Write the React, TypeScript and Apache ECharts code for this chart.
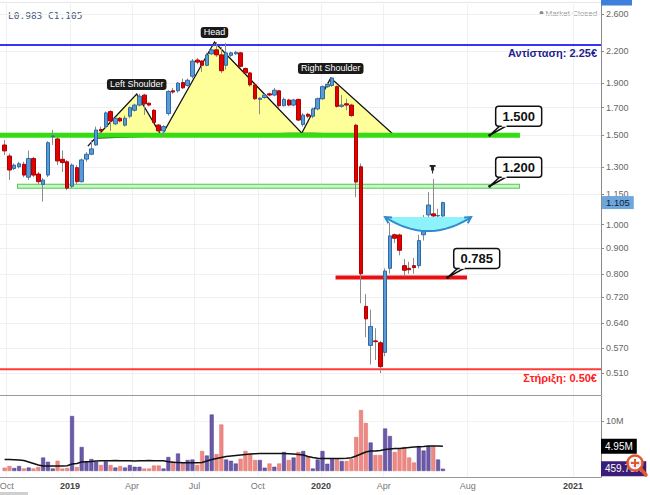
import React, { useEffect, useRef } from "react";
import * as echarts from "echarts";

// ---------- data (weekly candles, prices in €) ----------
const weekStart = "2018-09-28";
const opens = [1.435,1.365,1.29,1.3,1.315,1.24,1.35,1.258,1.2,1.252,
1.49,1.475,1.345,1.33,1.19,1.295,1.215,1.346,1.376,1.435,
1.54,1.56,1.67,1.58,1.62,1.57,1.635,1.68,1.72,1.8,
1.735,1.68,1.571,1.53,1.655,1.835,1.835,1.905,1.88,1.96,
2.11,2.1,2.06,2.17,2.21,2.16,2.06,2.155,2.17,2.18,
2.03,1.99,1.885,1.765,1.78,1.81,1.8,1.835,1.715,1.76,
1.72,1.765,1.575,1.65,1.635,1.69,1.77,1.87,1.88,1.87,
1.71,1.73,1.72,1.57,1.3,0.69,0.578,0.59,0.585,0.56,
0.82,0.955,0.954,0.83,0.82,0.83,0.83,0.955,1.045,1.05,
1.04,1.04];
const closes = [1.397,1.281,1.31,1.318,1.252,1.35,1.252,1.215,1.224,1.45,
1.495,1.335,1.325,1.18,1.31,1.215,1.341,1.376,1.41,1.536,
1.53,1.66,1.6,1.62,1.6,1.62,1.7,1.72,1.79,1.73,
1.72,1.59,1.53,1.56,1.83,1.825,1.9,1.86,1.925,2.1,
2.09,2.06,2.16,2.21,2.16,2.01,2.18,2.18,2.185,2.05,
1.99,1.885,1.77,1.775,1.8,1.8,1.84,1.715,1.765,1.72,
1.76,1.607,1.644,1.635,1.69,1.77,1.87,1.89,1.945,1.71,
1.72,1.72,1.64,1.213,0.8,0.652,0.63,0.588,0.525,0.81,
0.95,0.94,0.89,0.813,0.815,0.823,0.93,1.03,1.093,1.04,
1.042,1.105];
const lows = [1.371,1.224,1.28,1.29,1.24,1.224,1.24,1.2,1.11,1.24,
1.435,1.31,1.27,1.17,1.18,1.2,1.21,1.33,1.37,1.43,
1.51,1.55,1.53,1.57,1.59,1.56,1.62,1.67,1.71,1.645,
1.71,1.58,1.52,1.49,1.64,1.81,1.82,1.85,1.87,1.94,
2.07,2.0,2.05,2.16,2.14,1.99,2.02,2.14,2.16,2.04,
1.98,1.87,1.76,1.65,1.77,1.79,1.79,1.7,1.71,1.71,
1.71,1.6,1.56,1.62,1.62,1.68,1.76,1.86,1.87,1.7,
1.7,1.68,1.63,1.132,0.7,0.6,0.53,0.541,0.51,0.55,
0.8,0.92,0.87,0.79,0.8,0.8,0.82,0.93,1.0,1.02,
1.0,0.983];
const highs = [1.468,1.38,1.32,1.33,1.33,1.4,1.36,1.27,1.235,1.46,
1.536,1.49,1.4,1.34,1.32,1.31,1.35,1.39,1.468,1.56,
1.56,1.67,1.68,1.63,1.63,1.64,1.71,1.73,1.81,1.81,
1.74,1.69,1.58,1.57,1.84,1.86,1.91,1.94,1.94,2.12,
2.13,2.11,2.18,2.23,2.29,2.24,2.28,2.19,2.2,2.19,
2.04,2.0,1.89,1.78,1.81,1.82,1.86,1.84,1.78,1.77,
1.77,1.77,1.66,1.66,1.7,1.78,1.88,1.91,1.95,1.88,
1.8,1.77,1.73,1.58,1.32,0.73,0.68,0.625,0.59,0.82,
1.01,0.96,0.96,0.855,0.845,0.86,0.955,1.045,1.16,1.23,
1.075,1.11];
// volume in millions
const volumesM = [0.66,1.0,0.6,1.0,0.5,0.7,0.5,0.8,2.7,1.85,
0.5,2.05,0.5,0.6,11.0,0.8,4.8,1.85,2.4,1.85,
1.2,1.9,1.2,0.7,1.0,0.7,1.2,0.85,0.85,0.5,
0.5,1.1,1.1,0.5,2.8,1.9,3.5,1.7,2.2,2.3,
1.2,4.0,3.1,11.3,3.4,9.3,2.3,2.05,1.5,2.45,
4.0,3.4,2.2,2.2,0.66,1.5,0.85,1.5,3.8,2.2,
2.7,3.8,4.0,2.85,0.5,2.3,4.0,1.45,2.4,2.4,
2.0,2.0,2.4,6.8,12.2,9.6,5.7,3.2,3.2,8.5,
7.0,3.8,4.4,4.8,2.7,1.7,5.0,4.1,5.0,5.0,
2.3,0.45975];
const volumeMAM = [2.3,2.3,2.25,2.2,2.1,1.8,1.5,1.2,1.0,1.0,
1.0,1.0,1.0,1.05,1.4,1.5,1.8,1.85,1.9,2.0,
2.05,2.05,2.05,2.1,2.05,2.05,2.05,2.0,2.05,2.05,
2.1,2.05,2.05,2.05,1.85,1.75,1.7,1.65,1.65,1.65,
1.65,1.7,2.0,2.3,2.5,2.7,2.9,3.0,3.1,3.2,
3.3,3.4,3.45,3.5,3.5,3.5,3.5,3.5,3.5,3.45,
3.4,3.3,3.2,2.9,2.7,2.55,2.5,2.5,2.5,2.5,
2.5,2.55,2.65,3.0,3.4,3.8,4.0,4.0,4.1,4.3,
4.4,4.5,4.5,4.6,4.7,4.8,4.85,4.9,5.0,5.0,
5.0,4.95];

const priceTicks = [2.6, 2.2, 1.9, 1.7, 1.5, 1.3, 1.15, 1.0, 0.9, 0.8, 0.72, 0.64, 0.57, 0.51];
const volumeTicksM = [10];
const monthTickDates = ["2018-10-01","2019-01-01","2019-04-01","2019-07-01","2019-10-01","2020-01-01","2020-04-01","2020-08-01","2021-01-01"];
const monthTickLabels = ["Oct","2019","Apr","Jul","Oct","2020","Apr","Aug","2021"];

const levelPrices = [2.259, 1.5, 1.19, 0.787, 0.519];
const levelStarts = ["2018-09-01","2018-09-01","2018-10-16","2020-01-22","2018-09-01"];
const levelEnds = ["2021-03-01","2020-10-16","2020-10-16","2020-07-31","2021-03-01"];
const levelTexts = ["Αντίσταση: 2.25€", "", "", "", "Στήριξη: 0.50€"];

const calloutDates = ["2020-09-02","2020-09-02","2020-07-03"];
const calloutPrices = [1.5, 1.19, 0.787];
const calloutTexts = ["1.500","1.200","0.785"];

const hsDates = [["2019-02-07","2019-04-08","2019-05-14"],["2019-05-14","2019-07-30","2019-12-04"],["2019-12-04","2020-01-15","2020-04-16"]];
const hsPrices = [[1.481,1.809,1.495],[1.495,2.29,1.515],[1.515,1.945,1.501]];
const hsLabels = ["Left Shoulder","Head","Right Shoulder"];
const hsLeadDate = "2019-01-27";
const hsLeadPrice = 1.428;

const bowlDates = ["2020-04-03","2020-08-06"];
const bowlPrices = [1.035, 0.971];
const pinDate = "2020-06-11";
const pinPrice = 1.281;

const lastLow = 0.983;
const lastClose = 1.105;
const lastMA = 4.95;
const lastVolumeK = 459.75;

// ---------- helpers / layout ----------
const DAY = 86400000;
const t = (s: string) => Date.parse(s + "T00:00:00Z");
const L = Math.log;
const JAN19 = t("2019-01-01");
const X_MIN = JAN19 - 101.7 * DAY;
const X_MAX = JAN19 + 771.8 * DAY;
const Y_MIN = -0.7731;
const Y_MAX = 1.0009;
const FONT = '"Liberation Sans", Arial, sans-serif';

const UP = "#5b9bd5", UP_B = "#2f6aa8", DN = "#e00000", DN_B = "#b00000", WICK = "#8c8c8c";
const VUP = "#6b5aa8", VUP_B = "#4d3d8c", VDN = "#ef8983", VDN_B = "#d86a64";
const LEVEL_STYLE: any[] = [
  { c: "#3535f5", w: 2, tc: "#1f1f8f" },
  { c: "#33dd11", w: 5 },
  { c: "#55c855", w: 5, inner: "#c8f6c8", iw: 3 },
  { c: "#e81010", w: 4 },
  { c: "#ff3b3b", w: 2, tc: "#ff2020" },
];

function buildOption(): any {
  const times = opens.map((_, i) => t(weekStart) + i * 7 * DAY);
  const isUp = opens.map((o, i) => closes[i] >= o);
  const monthTicks = monthTickDates.map(t);
  const lnTicks = priceTicks.map((p) => L(p));

  const renderHS = (params: any, api: any) => {
    const i = params.dataIndex;
    const pts = hsDates[i].map((d, k) => api.coord([t(d), L(hsPrices[i][k])]));
    const children: any[] = [
      { type: "polygon", shape: { points: pts }, style: { fill: "#ffff99", stroke: "#111", lineWidth: 1.3 } },
    ];
    if (i === 0) {
      const lead = api.coord([t(hsLeadDate), L(hsLeadPrice)]);
      children.push({ type: "line", shape: { x1: lead[0], y1: lead[1], x2: pts[0][0], y2: pts[0][1] }, style: { stroke: "#111", lineWidth: 1.3 } });
    }
    return { type: "group", children };
  };

  const renderHSLabel = (params: any, api: any) => {
    const i = params.dataIndex;
    const p = api.coord([t(hsDates[i][1]), L(hsPrices[i][1])]);
    return {
      type: "text", x: p[0], y: p[1] - 4,
      style: { text: hsLabels[i], fill: "#fff", font: "9px " + FONT, align: "center", verticalAlign: "bottom",
        backgroundColor: "#1a1a1a", padding: [1, 3, 1, 3], borderRadius: 3 },
    };
  };

  const renderLevel = (params: any, api: any) => {
    const i = params.dataIndex;
    const cs = params.coordSys;
    const a = api.coord([t(levelStarts[i]), L(levelPrices[i])]);
    const b = api.coord([t(levelEnds[i]), L(levelPrices[i])]);
    const x1 = Math.max(a[0], cs.x), x2 = Math.min(b[0], cs.x + cs.width), y = a[1];
    const st = LEVEL_STYLE[i];
    const children: any[] = [{ type: "line", shape: { x1, y1: y, x2, y2: y }, style: { stroke: st.c, lineWidth: st.w } }];
    if (st.inner) children.push({ type: "line", shape: { x1: x1 + 1, y1: y, x2: x2 - 1, y2: y }, style: { stroke: st.inner, lineWidth: st.iw } });
    if (levelTexts[i]) {
      children.push({ type: "text", x: cs.x + cs.width - 4, y: y + 3,
        style: { text: levelTexts[i], fill: st.tc, font: "bold 11px " + FONT, align: "right", verticalAlign: "top" } });
    }
    return { type: "group", children };
  };

  const renderCallout = (params: any, api: any) => {
    const i = params.dataIndex;
    const a = api.coord([t(calloutDates[i]), L(calloutPrices[i])]);
    const bx = a[0] + 6, by = a[1] - 29, bw = 46, bh = 20;
    return {
      type: "group",
      children: [
        { type: "polygon", shape: { points: [[bx + 5, by + bh - 1], [bx + 12, by + bh - 1], [a[0], a[1]]] }, style: { fill: "#fff", stroke: "#111", lineWidth: 1.5 } },
        { type: "rect", shape: { x: bx, y: by, width: bw, height: bh, r: 3 }, style: { fill: "#fff", stroke: "#111", lineWidth: 1.5 } },
        { type: "rect", shape: { x: bx + 6, y: by + bh - 2.5, width: 5, height: 3 }, style: { fill: "#fff" } },
        { type: "circle", shape: { cx: a[0], cy: a[1], r: 1.5 }, style: { fill: "#111" } },
        { type: "text", x: bx + bw / 2, y: by + bh / 2 + 0.5,
          style: { text: calloutTexts[i], fill: "#111", font: "bold 13px " + FONT, align: "center", verticalAlign: "middle" } },
      ],
    };
  };

  const renderBowl = (params: any, api: any) => {
    const a = api.coord([t(bowlDates[0]), L(bowlPrices[0])]);
    const b = api.coord([t(bowlDates[1]), L(bowlPrices[0])]);
    const m = api.coord([(t(bowlDates[0]) + t(bowlDates[1])) / 2, L(bowlPrices[1])]);
    const c = [m[0], 2 * m[1] - (a[1] + b[1]) / 2];
    const curve: number[][] = [];
    for (let k = 0; k <= 24; k++) {
      const s = k / 24;
      curve.push([
        (1 - s) * (1 - s) * a[0] + 2 * s * (1 - s) * c[0] + s * s * b[0],
        (1 - s) * (1 - s) * a[1] + 2 * s * (1 - s) * c[1] + s * s * b[1],
      ]);
    }
    const head = (tip: number[]) => {
      const dx = tip[0] - c[0], dy = tip[1] - c[1];
      const n = Math.hypot(dx, dy) || 1;
      const ux = dx / n, uy = dy / n;
      const rot = (ang: number) => [ux * Math.cos(ang) - uy * Math.sin(ang), ux * Math.sin(ang) + uy * Math.cos(ang)];
      const r1 = rot(0.5), r2 = rot(-0.5);
      return [[tip[0] - r1[0] * 7, tip[1] - r1[1] * 7], tip, [tip[0] - r2[0] * 7, tip[1] - r2[1] * 7]];
    };
    return {
      type: "group",
      children: [
        { type: "polygon", shape: { points: curve }, style: { fill: "#8cf3fb", stroke: "none" } },
        { type: "polyline", shape: { points: curve }, style: { stroke: "#2f8ad0", lineWidth: 2, fill: "none" } },
        { type: "polyline", shape: { points: head(a) }, style: { stroke: "#2f8ad0", lineWidth: 2, fill: "none" } },
        { type: "polyline", shape: { points: head(b) }, style: { stroke: "#2f8ad0", lineWidth: 2, fill: "none" } },
      ],
    };
  };

  const renderPin = (params: any, api: any) => {
    const p = api.coord([t(pinDate), L(pinPrice)]);
    return {
      type: "group",
      children: [
        { type: "rect", shape: { x: p[0] - 3, y: p[1] - 5, width: 6, height: 1.8 }, style: { fill: "#222" } },
        { type: "rect", shape: { x: p[0] - 1.5, y: p[1] - 4, width: 3, height: 4.5 }, style: { fill: "#222" } },
        { type: "line", shape: { x1: p[0], y1: p[1], x2: p[0], y2: p[1] + 3.5 }, style: { stroke: "#222", lineWidth: 1 } },
      ],
    };
  };

  // value tags sitting on the right axes
  const priceTagText = [lastClose.toFixed(3)];
  const renderPriceTag = (params: any, api: any) => {
    const p = api.coord([X_MAX, L(lastClose)]);
    return {
      type: "text", x: p[0] + 1, y: p[1],
      style: { text: priceTagText[params.dataIndex], fill: "#0b1f3a", font: "9.5px " + FONT, align: "left", verticalAlign: "middle",
        backgroundColor: "#6ea6dc", padding: [2, 4, 1, 4] },
    };
  };
  const volTagValues = [lastMA, volumesM[volumesM.length - 1]];
  const volTagTexts = [lastMA.toFixed(2) + "M", lastVolumeK.toFixed(2) + "K"];
  const volTagColors = ["#000", "#3b1d78"];
  const renderVolTag = (params: any, api: any) => {
    const i = params.dataIndex;
    const p = api.coord([X_MAX, volTagValues[i]]);
    return {
      type: "text", x: p[0], y: p[1],
      style: { text: volTagTexts[i], fill: "#fff", font: "10px " + FONT, align: "left", verticalAlign: "middle",
        backgroundColor: volTagColors[i], padding: [3, 4, 2, 4] },
    };
  };

  const monthFormatter = (v: number) => {
    let best = 0;
    monthTicks.forEach((m, k) => { if (Math.abs(m - v) < Math.abs(monthTicks[best] - v)) best = k; });
    const lab = monthTickLabels[best];
    return /^\d{4}$/.test(lab) ? "{y|" + lab + "}" : lab;
  };

  const header = "L" + lastLow.toFixed(3) + " C" + lastClose.toFixed(3);

  return {
    animation: false,
    backgroundColor: "#fff",
    grid: [
      { left: 0, top: 4, width: 601, height: 391, outerBoundsMode: "none", containLabel: false },
      { left: 0, top: 396, width: 601, height: 81, outerBoundsMode: "none", containLabel: false },
    ],
    xAxis: [
      {
        type: "value", gridIndex: 0, min: X_MIN, max: X_MAX, scale: true,
        axisLine: { show: false },
        axisTick: { show: false, customValues: monthTicks },
        axisLabel: { show: false, customValues: monthTicks },
        splitLine: { show: true, lineStyle: { color: "#f0f0f0", width: 1 } },
      },
      {
        type: "value", gridIndex: 1, min: X_MIN, max: X_MAX, scale: true,
        axisLine: { show: true, onZero: false, lineStyle: { color: "#999", width: 1 } },
        axisTick: { show: false, customValues: monthTicks },
        axisLabel: {
          show: true, customValues: monthTicks, formatter: monthFormatter, color: "#777", fontSize: 9,
          fontFamily: FONT, margin: 4, rich: { y: { fontWeight: "bold", color: "#444", fontSize: 9, fontFamily: FONT } },
        },
        splitLine: { show: true, lineStyle: { color: "#f2f2f2", width: 1 } },
      },
    ],
    yAxis: [
      {
        type: "value", gridIndex: 0, position: "right", min: Y_MIN, max: Y_MAX, scale: true,
        axisLine: { show: true, onZero: false, lineStyle: { color: "#8a8a8a", width: 1 } },
        axisTick: { show: true, length: 3, customValues: lnTicks, lineStyle: { color: "#8a8a8a" } },
        axisLabel: {
          show: true, customValues: lnTicks, formatter: (v: number) => Math.exp(v).toFixed(3),
          color: "#666", fontSize: 9, fontFamily: FONT, margin: 5,
        },
        splitLine: { show: true, lineStyle: { color: "#f0f0f0", width: 1 } },
      },
      {
        type: "value", gridIndex: 1, position: "right", min: -1.2, max: 15,
        axisLine: { show: true, onZero: false, lineStyle: { color: "#8a8a8a", width: 1 } },
        axisTick: { show: true, length: 3, customValues: volumeTicksM, lineStyle: { color: "#8a8a8a" } },
        axisLabel: {
          show: true, customValues: volumeTicksM, formatter: (v: number) => Math.round(v) + "M",
          color: "#666", fontSize: 9, fontFamily: FONT, margin: 5,
        },
        splitLine: { show: true, lineStyle: { color: "#f2f2f2", width: 1 } },
      },
    ],
    graphic: [
      { type: "line", shape: { x1: 0, y1: 2.5, x2: 601, y2: 2.5 }, style: { stroke: "#e6e6e6", lineWidth: 1 } },
      { type: "line", shape: { x1: 0, y1: 395.5, x2: 601, y2: 395.5 }, style: { stroke: "#9a9a9a", lineWidth: 1 } },
      { type: "text", x: 8, y: 15, style: { text: header, font: '9.5px "DejaVu Sans Mono", monospace', fill: "#44597a", verticalAlign: "middle" } },
      { type: "circle", shape: { cx: 541.5, cy: 13, r: 2 }, style: { fill: "#8a8a8a" } },
      { type: "text", x: 545.5, y: 13.5, style: { text: "Market Closed", font: "8px " + FONT, fill: "#9a9a9a", verticalAlign: "middle" } },
      { type: "rect", z: 50, shape: { x: 601, y: -4, width: 31, height: 9.5 }, style: { fill: "#3f7fdc" } },
      { type: "rect", shape: { x: 0, y: 492, width: 28, height: 3 }, style: { fill: "#d0d0d0" } },
      {
        type: "group", z: 100,
        children: [
          { type: "circle", z: 100, shape: { cx: 635, cy: 463, r: 7.5 }, style: { fill: "rgba(255,255,255,0.85)", stroke: "#e2572b", lineWidth: 2.5 } },
          { type: "line", z: 101, shape: { x1: 631, y1: 463, x2: 639, y2: 463 }, style: { stroke: "#e2572b", lineWidth: 2 } },
          { type: "line", z: 101, shape: { x1: 635, y1: 459, x2: 635, y2: 467 }, style: { stroke: "#e2572b", lineWidth: 2 } },
          { type: "line", z: 101, shape: { x1: 640.5, y1: 468.5, x2: 646, y2: 475 }, style: { stroke: "#e2572b", lineWidth: 3.5, lineCap: "round" } },
        ],
      },
    ],
    series: [
      {
        type: "custom", name: "hs", xAxisIndex: 0, yAxisIndex: 0, z: 1, silent: true,
        data: hsLabels.map((_, i) => [t(hsDates[i][1]), L(hsPrices[i][1])]),
        renderItem: renderHS,
      },
      {
        type: "custom", name: "levels", xAxisIndex: 0, yAxisIndex: 0, z: 2, silent: true,
        data: levelPrices.map((p, i) => [(Math.max(t(levelStarts[i]), X_MIN) + Math.min(t(levelEnds[i]), X_MAX)) / 2, L(p)]),
        renderItem: renderLevel,
      },
      {
        type: "candlestick", name: "wicks", xAxisIndex: 0, yAxisIndex: 0, z: 3, silent: true, barWidth: 1,
        data: times.map((d, i) => [d, L(opens[i]), L(closes[i]), L(lows[i]), L(highs[i])]),
        itemStyle: { color: WICK, color0: WICK, borderColor: WICK, borderColor0: WICK, borderWidth: 1 },
      },
      {
        type: "candlestick", name: "bodies", xAxisIndex: 0, yAxisIndex: 0, z: 4, silent: true, barWidth: 4,
        data: times.map((d, i) => [d, L(opens[i]), L(closes[i]), L(Math.min(opens[i], closes[i])), L(Math.max(opens[i], closes[i]))]),
        itemStyle: { color: UP, color0: DN, borderColor: UP_B, borderColor0: DN_B, borderWidth: 1 },
      },
      {
        type: "custom", name: "bowl", xAxisIndex: 0, yAxisIndex: 0, z: 5, silent: true,
        data: [[t(bowlDates[0]), L(bowlPrices[0])]], renderItem: renderBowl,
      },
      {
        type: "custom", name: "pin", xAxisIndex: 0, yAxisIndex: 0, z: 6, silent: true,
        data: [[t(pinDate), L(pinPrice)]], renderItem: renderPin,
      },
      {
        type: "custom", name: "hsLabels", xAxisIndex: 0, yAxisIndex: 0, z: 7, silent: true,
        data: hsLabels.map((_, i) => [t(hsDates[i][1]), L(hsPrices[i][1])]), renderItem: renderHSLabel,
      },
      {
        type: "custom", name: "callouts", xAxisIndex: 0, yAxisIndex: 0, z: 8, silent: true,
        data: calloutPrices.map((p, i) => [t(calloutDates[i]), L(p)]), renderItem: renderCallout,
      },
      {
        type: "custom", name: "priceTag", xAxisIndex: 0, yAxisIndex: 0, z: 20, silent: true, clip: false,
        data: [[X_MAX, L(lastClose)]], renderItem: renderPriceTag,
      },
      {
        type: "bar", name: "volume", xAxisIndex: 1, yAxisIndex: 1, barWidth: 4, silent: true,
        data: times.map((d, i) => ({
          value: [d, volumesM[i]],
          itemStyle: { color: isUp[i] ? VUP : VDN, borderColor: isUp[i] ? VUP_B : VDN_B, borderWidth: 0.5 },
        })),
      },
      {
        type: "line", name: "volumeMA", xAxisIndex: 1, yAxisIndex: 1, silent: true, symbol: "none", z: 5,
        data: times.map((d, i) => [d, volumeMAM[i]]),
        lineStyle: { color: "#111", width: 1.5 },
      },
      {
        type: "custom", name: "volTags", xAxisIndex: 1, yAxisIndex: 1, z: 20, silent: true, clip: false,
        data: volTagValues.map((v) => [X_MAX, v]), renderItem: renderVolTag,
      },
    ],
  };
}

export default function App() {
  const ref = useRef<HTMLDivElement>(null);
  useEffect(() => {
    const el = ref.current;
    if (!el) return;
    const chart = echarts.init(el, null, { renderer: "svg" });
    chart.setOption(buildOption());
    return () => chart.dispose();
  }, []);
  return (
    <div
      ref={ref}
      style={{ position: "fixed", left: 0, top: 0, width: 650, height: 495, background: "#fff" }}
    />
  );
}
